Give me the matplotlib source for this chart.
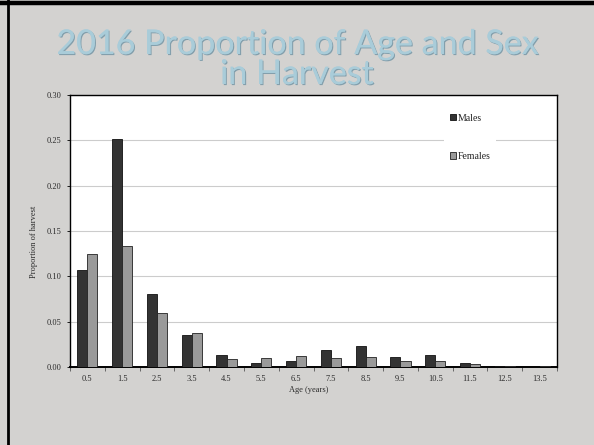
import numpy as np
import matplotlib.pyplot as plt
import matplotlib.patheffects as pe
from matplotlib.lines import Line2D

# Data
ages = ["0.5", "1.5", "2.5", "3.5", "4.5", "5.5", "6.5",
        "7.5", "8.5", "9.5", "10.5", "11.5", "12.5", "13.5"]
males = [0.107, 0.251, 0.080, 0.035, 0.013, 0.004, 0.007,
         0.0185, 0.0237, 0.0115, 0.0133, 0.0048, 0.0015, 0.0]
females = [0.125, 0.134, 0.060, 0.037, 0.0085, 0.010, 0.0117,
           0.010, 0.0115, 0.0067, 0.0067, 0.0033, 0.0015, 0.0015]
yticks = [0.00, 0.05, 0.10, 0.15, 0.20, 0.25, 0.30]

W, H = 594, 445
fig = plt.figure(figsize=(W / 100, H / 100), dpi=100)
fig.patch.set_facecolor("#d3d2d0")

# slide frame (black lines on top and left)
fig.add_artist(Line2D([0, 1], [1 - 2.5 / H, 1 - 2.5 / H], color="black", lw=3.2))
fig.add_artist(Line2D([7.5 / W, 7.5 / W], [0, 1], color="black", lw=2.0))

# title with a soft embossed look
title_kw = dict(ha="center", va="baseline", fontsize=24.5, family=["Lato", "DejaVu Sans"],
                color="#a9ccd9")
effects = [pe.withSimplePatchShadow(offset=(0.8, -0.8), shadow_rgbFace="#6f93a4", alpha=0.8),
           pe.Normal()]
fig.text(0.5, 1 - 54 / H, "2016 Proportion of Age and Sex", path_effects=effects, **title_kw)
fig.text(0.5, 1 - 84 / H, "in Harvest", path_effects=effects, **title_kw)

ax = fig.add_axes([70 / W, 1 - 367 / H, (557 - 70) / W, (367 - 95) / H])
ax.set_facecolor("white")

x = np.arange(len(ages))
w = 0.29
ax.bar(x - w / 2, males, w, color="#333333", edgecolor="#111111", lw=0.6,
       label="Males", zorder=3)
ax.bar(x + w / 2, females, w, color="#9a9a9a", edgecolor="#222222", lw=0.6,
       label="Females", zorder=3)

ax.set_xlim(-0.5, len(ages) - 0.5)
ax.set_ylim(0, 0.30)
ax.set_yticks(yticks)
ax.set_yticklabels([f"{v:.2f}" for v in yticks])
ax.yaxis.grid(True, color="#cccccc", lw=0.8, zorder=0)

ax.set_xticks(x)
ax.set_xticklabels(ages)
ax.set_xticks(np.arange(-0.5, len(ages)), minor=True)
ax.tick_params(axis="x", which="major", length=0, pad=6)
ax.tick_params(axis="x", which="minor", length=3, color="#555555", width=0.6)
ax.tick_params(axis="y", length=2, width=0.6, pad=4)

serif = ["Liberation Serif", "DejaVu Serif"]
for lab in ax.get_xticklabels() + ax.get_yticklabels():
    lab.set_family(serif)
    lab.set_fontsize(6)
    lab.set_color("#2a2a2a")

for s in ["top", "right", "left"]:
    ax.spines[s].set_linewidth(1.0)
ax.spines["bottom"].set_linewidth(1.4)

ax.set_xlabel("Age (years)", family=serif, fontsize=6, color="#2a2a2a")
ax.xaxis.set_label_coords(0.49, -0.07)
ax.set_ylabel("Proportion of harvest", family=serif, fontsize=6, color="#2a2a2a")
ax.yaxis.set_label_coords(-0.066, 0.46)

leg = ax.legend(loc="upper left", bbox_to_anchor=((439 - 70) / 487, 1 - 8 / 272),
                frameon=True, fancybox=False, edgecolor="none", facecolor="white",
                framealpha=1, prop={"family": serif, "size": 7},
                handlelength=0.6, handleheight=0.6, handletextpad=0.2,
                labelspacing=3.0, borderpad=0.6)
for t in leg.get_texts():
    t.set_color("#222222")

fig.savefig("out.png", dpi=100, facecolor=fig.get_facecolor())
